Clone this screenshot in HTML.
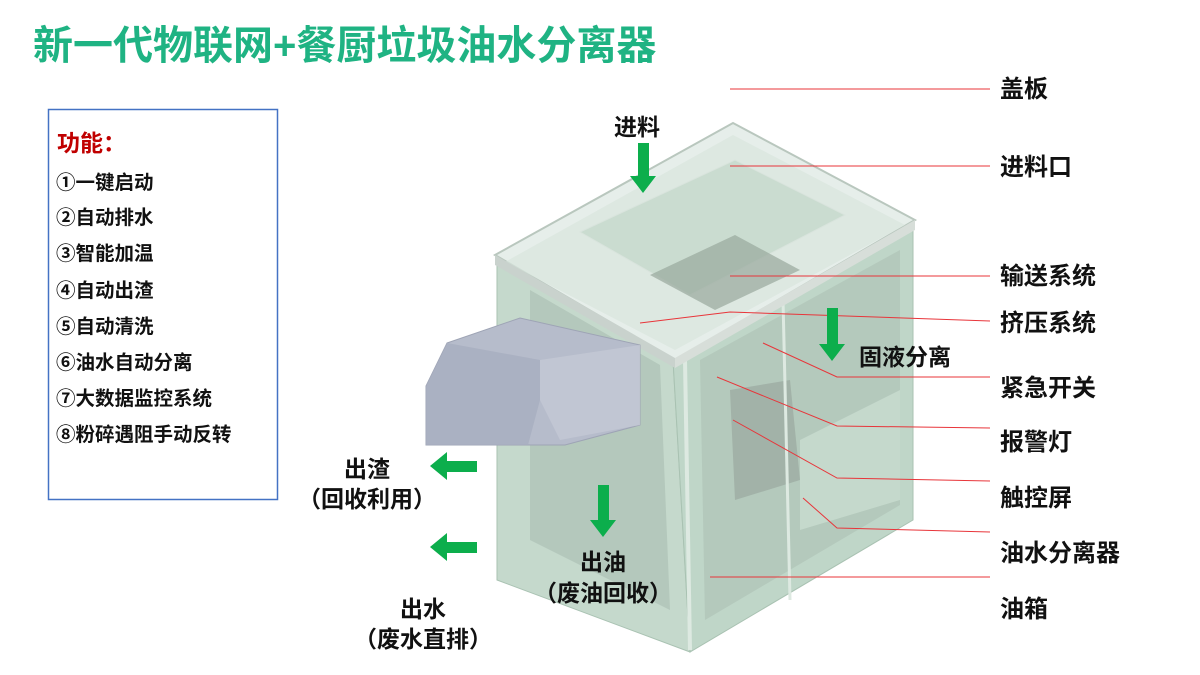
<!DOCTYPE html>
<html><head><meta charset="utf-8"><style>
body{margin:0;width:1200px;height:675px;background:#fff;overflow:hidden;font-family:"Liberation Sans","Noto Sans CJK SC",sans-serif}
svg{position:absolute;left:0;top:0}
</style></head><body>
<svg width="1200" height="675" viewBox="0 0 1200 675" font-family="'Liberation Sans','Noto Sans CJK SC',sans-serif" font-weight="bold">
<text x="33" y="59" font-size="40" fill="#1fb383">新一代物联网+餐厨垃圾油水分离器</text>
<rect x="48.5" y="109.5" width="229" height="390" fill="none" stroke="#4472c4" stroke-width="1.5"/>
<text x="57" y="151" font-size="23" fill="#c00000">功能：</text>
<g font-size="19.5" fill="#111">
<text x="56" y="189">①一键启动</text>
<text x="56" y="224">②自动排水</text>
<text x="56" y="260">③智能加温</text>
<text x="56" y="297">④自动出渣</text>
<text x="56" y="333">⑤自动清洗</text>
<text x="56" y="369">⑥油水自动分离</text>
<text x="56" y="405">⑦大数据监控系统</text>
<text x="56" y="441">⑧粉碎遇阻手动反转</text>
</g>
<!-- machine body -->
<polygon points="497,262 673,360 690,652 497,580" fill="#c5d9cc" stroke="#a9c2b2"/>
<polygon points="673,360 913,222 913,520 690,652" fill="#bfd6c8" stroke="#a9c2b2"/>
<polygon points="530,290 660,365 670,610 530,540" fill="#a9bdb0" opacity=".6"/>
<polygon points="700,360 900,250 900,505 705,620" fill="#aebfb4" opacity=".6"/>
<polygon points="730,390 790,380 800,480 735,500" fill="#9aa89f" opacity=".7"/>
<polygon points="800,440 900,390 900,500 800,530" fill="#c9ddd0" opacity=".8"/>
<line x1="783" y1="300" x2="790" y2="600" stroke="#dde9e1" stroke-width="3"/>
<line x1="685" y1="360" x2="690" y2="650" stroke="#dde9e1" stroke-width="4"/>
<!-- lid -->
<polygon points="495,255 733,123 915,220 675,360" fill="#e6eeea" stroke="#b9c7be" stroke-width="2"/>
<polygon points="505,262 733,135 905,225 675,350" fill="#d8e6dd" opacity=".7"/>
<polygon points="580,232 735,160 845,215 690,295" fill="#cadcd0" stroke="#d9e4dd"/>
<polygon points="650,275 735,235 800,270 715,310" fill="#98a89d" opacity=".7"/>
<polygon points="495,255 675,358 675,368 495,265" fill="#c9d2cd"/>
<polygon points="675,358 915,220 915,230 675,368" fill="#d7ded9"/>
<!-- hopper -->
<polygon points="447,343 520,318 640,345 640,425 565,445 426,445 426,386" fill="#b6bccb" stroke="#9ea4b5"/>
<polygon points="426,386 447,343 540,360 540,400 528,445 426,445" fill="#a8aebf" opacity=".8"/>
<polygon points="540,360 640,345 640,425 560,440 540,400" fill="#c4c8d4" opacity=".8"/>
<!-- leader lines -->
<g stroke="#e8353a" stroke-width="1" fill="none">
<line x1="730" y1="89" x2="990" y2="89"/>
<line x1="730" y1="166" x2="990" y2="166"/>
<line x1="730" y1="276" x2="990" y2="276"/>
<polyline points="640,323 730,312 990,321"/>
<polyline points="763,343 837,377 990,377"/>
<polyline points="717,377 837,426 990,428"/>
<polyline points="733,420 837,478 990,481"/>
<polyline points="803,498 837,528 990,532"/>
<line x1="710" y1="577" x2="990" y2="577"/>
</g>
<!-- green arrows -->
<g fill="#0cae4c">
<polygon points="638,143 649,143 649,176 656,176 643,193 630,176 638,176"/>
<polygon points="827,308 838,308 838,344 845,344 832,361 819,344 827,344"/>
<polygon points="598,485 609,485 609,520 616,520 603,537 590,520 598,520"/>
<polygon points="477,461 477,472 447,472 447,480 430,466 447,452 447,461"/>
<polygon points="477,542 477,553 447,553 447,561 430,547 447,533 447,542"/>
</g>
<g font-size="23" fill="#111" text-anchor="middle">
<text x="637" y="135">进料</text>
<text x="905" y="365">固液分离</text>
<text x="603" y="570">出油</text>
<text x="603" y="601">（废油回收）</text>
<text x="367" y="477">出渣</text>
<text x="367" y="507">（回收利用）</text>
<text x="423" y="617">出水</text>
<text x="423" y="647">（废水直排）</text>
</g>
<g font-size="24" fill="#111">
<text x="1000" y="97">盖板</text>
<text x="1000" y="175">进料口</text>
<text x="1000" y="284">输送系统</text>
<text x="1000" y="331">挤压系统</text>
<text x="1000" y="396">紧急开关</text>
<text x="1000" y="450">报警灯</text>
<text x="1000" y="506">触控屏</text>
<text x="1000" y="561">油水分离器</text>
<text x="1000" y="617">油箱</text>
</g>
</svg>
</body></html>
